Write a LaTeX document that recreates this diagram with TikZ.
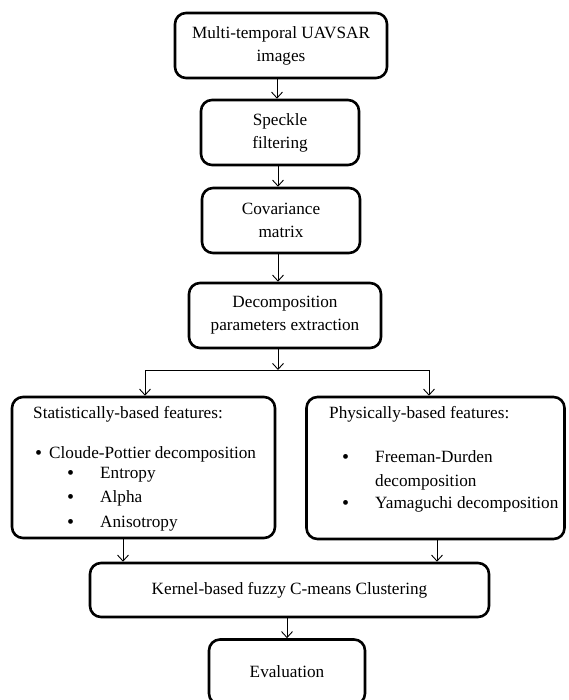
\documentclass[tikz,border=0pt]{standalone}
\usepackage{fontspec}
\setmainfont{Liberation Serif}
\usetikzlibrary{arrows.meta}
\begin{document}
\begin{tikzpicture}[x=1pt,y=-1pt,
  box/.style={draw, line width=2.6pt, rounded corners=11pt, inner sep=0pt, align=center,
    font=\fontsize{17.2}{23}\selectfont},
  txt/.style={anchor=base west, inner sep=0pt, font=\fontsize{17.2}{23}\selectfont},
  bul/.style={anchor=base west, inner sep=0pt, font=\fontsize{20}{23}\selectfont},
  arr/.style={line width=0.9pt, -{Straight Barb[length=6pt,width=11pt]}}]
\useasboundingbox (0,0) rectangle (568,700);
\node[box, minimum width=212pt, minimum height=65pt] (b1) at (281,45.5) {Multi-temporal UAVSAR\\images};
\node[box, minimum width=158pt, minimum height=65pt] (b2) at (280,132.5) {Speckle\\filtering};
\node[box, minimum width=158pt, minimum height=65pt] (b3) at (281,220.5) {Covariance\\matrix};
\node[box, minimum width=192pt, minimum height=65pt] (b4) at (285,315.5) {Decomposition\\parameters extraction};
\node[box, minimum width=263pt, minimum height=141pt] (left) at (143.5,467.5) {};
\node[box, minimum width=258pt, minimum height=142pt] (right) at (435.5,468) {};
\node[box, minimum width=399pt, minimum height=54pt] (kern) at (289.5,590) {Kernel-based fuzzy C-means Clustering};
\node[box, minimum width=156pt, minimum height=65pt] (eval) at (287,672) {Evaluation};
% texts in feature boxes
\node[txt] (t1) at (33,418) {Statistically-based features:};
\node[bul] (t2) at (35,459) {•};
\node[txt] (t3) at (49,458) {Cloude-Pottier decomposition};
\node[bul] (t4) at (67,479) {•};
\node[txt] (t5) at (100,478) {Entropy};
\node[bul] (t6) at (67,503) {•};
\node[txt] (t7) at (100,502) {Alpha};
\node[bul] (t8) at (67,528) {•};
\node[txt] (t9) at (100,527) {Anisotropy};
\node[txt] (p1) at (329,418) {Physically-based features:};
\node[bul] (p2) at (342,463) {•};
\node[txt] (p3) at (375,462) {Freeman-Durden};
\node[txt] (p4) at (375,486) {decomposition};
\node[bul] (p5) at (342,509) {•};
\node[txt] (p6) at (375,508) {Yamaguchi decomposition};
% connectors
\coordinate (a1) at (277,78);
\draw[arr] (a1) -- (a1 |- b2.north);
\coordinate (a2) at (278,165);
\draw[arr] (a2) -- (a2 |- b3.north);
\coordinate (a3) at (278,253);
\draw[arr] (a3) -- (a3 |- b4.north);
\coordinate (a4) at (278,348);
\coordinate (sl) at (145,370);
\coordinate (sr) at (429,370);
\draw[arr] (a4) -- (a4 |- sl);
\draw[line width=0.9pt] (sl) -- (sr);
\draw[arr] (sl) -- (sl |- left.north);
\draw[arr] (sr) -- (sr |- right.north);
\coordinate (la) at (123,538);
\coordinate (ra) at (437,539);
\draw[arr] (la) -- (la |- kern.north);
\draw[arr] (ra) -- (ra |- kern.north);
\draw[arr] (kern.south -| eval.north) -- (eval.north);
\end{tikzpicture}
\end{document}
